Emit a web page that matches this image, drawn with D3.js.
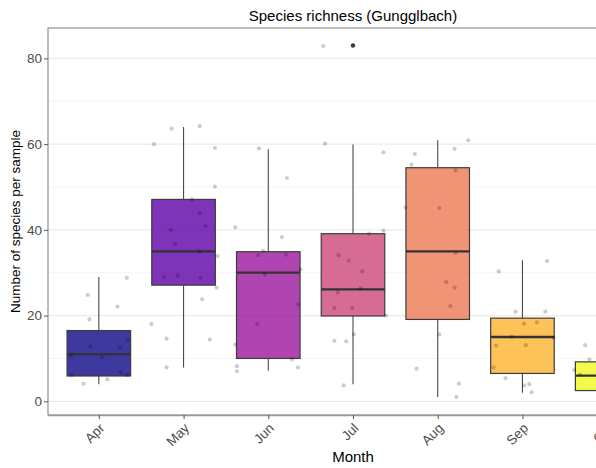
<!DOCTYPE html>
<html>
<head>
<meta charset="utf-8">
<script src="https://cdn.jsdelivr.net/npm/d3@7"></script>
<style>
  html, body { margin: 0; padding: 0; background: #fff; overflow: hidden; }
  svg { display: block; font-family: "Liberation Sans", Arial, sans-serif; }
</style>
</head>
<body>
<svg id="chart" width="596" height="468"></svg>
<script>
// Months sampled
const months = ["Apr", "May", "Jun", "Jul", "Aug", "Sep", "Oct"];

// Box statistics per month
const lowerWhisker = [4.0, 7.9, 7.1, 4.0, 1.0, 2.0, 1.0];
const q1 = [5.9, 27.1, 10.0, 19.9, 19.1, 6.5, 2.5];
const median = [11.0, 35.0, 30.0, 26.1, 35.0, 15.0, 6.0];
const q3 = [16.5, 47.1, 34.9, 39.1, 54.5, 19.4, 9.2];
const upperWhisker = [29.0, 64.0, 58.8, 59.9, 60.9, 32.9, 13.0];

// Outliers beyond the whiskers
const outlierMonth = ["Jul"];
const outlierValue = [83];

// Individual samples (species per sample) and their horizontal jitter, in category steps
const sampleMonth = [
  "Apr","Apr","Apr","Apr","Apr","Apr","Apr","Apr","Apr","Apr","Apr","Apr","Apr","Apr",
  "May","May","May","May","May","May","May","May","May","May","May","May","May","May","May","May","May","May","May","May","May",
  "Jun","Jun","Jun","Jun","Jun","Jun","Jun","Jun","Jun","Jun","Jun","Jun","Jun","Jun","Jun","Jun",
  "Jul","Jul","Jul","Jul","Jul","Jul","Jul","Jul","Jul","Jul","Jul","Jul","Jul","Jul","Jul","Jul","Jul",
  "Aug","Aug","Aug","Aug","Aug","Aug","Aug","Aug","Aug","Aug","Aug","Aug","Aug","Aug","Aug",
  "Sep","Sep","Sep","Sep","Sep","Sep","Sep","Sep","Sep","Sep","Sep","Sep","Sep","Sep","Sep",
  "Oct","Oct","Oct","Oct","Oct","Oct","Oct","Oct"
];
const sampleValue = [
  24.8, 19.1, 28.8, 22.1, 10.7, 12.8, 10.3, 12.6, 14.2, 6.8, 6.1, 6.1, 4.1, 5.1,
  63.6, 64.2, 60.0, 59.1, 50.1, 47.1, 43.9, 40.9, 40.0, 36.7, 35.0, 33.9, 29.0, 29.3, 28.8, 26.5, 23.8, 18.0, 14.6, 14.4, 7.9,
  59.0, 52.1, 40.6, 38.3, 35.1, 34.1, 34.2, 30.8, 29.6, 22.6, 18.0, 13.2, 9.8, 7.9, 8.2, 7.0,
  82.9, 60.1, 58.1, 39.8, 39.1, 34.1, 32.8, 30.3, 26.4, 25.4, 21.8, 21.7, 20.0, 15.6, 14.1, 14.0, 3.7,
  60.9, 57.7, 58.9, 55.2, 53.9, 45.2, 45.1, 34.6, 27.8, 26.5, 22.2, 15.6, 7.6, 4.1, 1.0,
  32.7, 30.3, 20.9, 20.9, 18.1, 18.4, 15.1, 14.8, 13.0, 13.1, 7.9, 5.4, 3.7, 4.0, 2.1,
  13.1, 9.8, 7.3, 6.2, 12.0, 4.0, 2.0, 1.0
];
const sampleJitter = [
  -0.13, -0.11, 0.33, 0.22, -0.33, -0.10, 0.04, 0.25, 0.34, 0.26, -0.32, 0.33, -0.18, 0.10,
  -0.14, 0.19, -0.35, 0.37, 0.37, 0.10, 0.19, 0.26, -0.15, -0.10, 0.19, 0.40, -0.23, -0.07, 0.20, 0.39, 0.22, -0.38, -0.20, 0.31, -0.20,
  -0.11, 0.22, -0.39, 0.16, -0.06, -0.12, 0.21, 0.38, -0.04, 0.35, -0.13, -0.39, 0.28, 0.35, -0.37, -0.37,
  -0.35, -0.33, 0.36, 0.36, 0.19, -0.17, -0.05, 0.11, 0.09, -0.18, -0.22, -0.01, 0.39, 0.01, -0.22, -0.08, -0.11,
  0.36, -0.27, 0.20, -0.31, 0.21, -0.38, 0.02, 0.21, 0.10, 0.20, 0.15, 0.02, -0.25, 0.25, 0.22,
  0.29, -0.28, -0.08, 0.27, 0.02, 0.17, -0.13, 0.37, -0.31, 0.04, -0.34, -0.20, 0.02, 0.08, 0.11,
  -0.26, -0.21, -0.39, -0.32, 0.15, 0.30, 0.10, -0.05
];

const yTicks = [0, 20, 40, 60, 80];
const yMinorTicks = [10, 30, 50, 70];

const svg = d3.select("#chart");

// Panel extends past the right edge of the window
const panel = { left: 48, right: 658, top: 28, bottom: 415 };

const x = d3.scalePoint()
  .domain(months)
  .range([panel.left, panel.right])
  .padding(0.6);
const step = x.step();
const boxW = step * 0.75;

const y = d3.scaleLinear()
  .domain([-3.2, 87.1])
  .range([panel.bottom, panel.top]);

const fill = d3.scaleOrdinal()
  .domain(months)
  .range(d3.quantize(d3.interpolatePlasma, months.length));

// Grid lines
svg.append("g").selectAll("line.minor")
  .data(yMinorTicks).join("line")
  .attr("x1", panel.left).attr("x2", panel.right)
  .attr("y1", d => y(d)).attr("y2", d => y(d))
  .attr("stroke", "#f4f4f4").attr("stroke-width", 1);
svg.append("g").selectAll("line.major")
  .data(yTicks).join("line")
  .attr("x1", panel.left).attr("x2", panel.right)
  .attr("y1", d => y(d)).attr("y2", d => y(d))
  .attr("stroke", "#ebebeb").attr("stroke-width", 1.2);

// Boxplots
const boxes = months.map((m, i) => ({
  m, lo: lowerWhisker[i], q1: q1[i], med: median[i], q3: q3[i], hi: upperWhisker[i]
}));
const gBox = svg.append("g");
gBox.selectAll("line.whisker-up").data(boxes).join("line")
  .attr("x1", d => x(d.m)).attr("x2", d => x(d.m))
  .attr("y1", d => y(d.q3)).attr("y2", d => y(d.hi))
  .attr("stroke", "#4a4a4a").attr("stroke-width", 1.1);
gBox.selectAll("line.whisker-down").data(boxes).join("line")
  .attr("x1", d => x(d.m)).attr("x2", d => x(d.m))
  .attr("y1", d => y(d.q1)).attr("y2", d => y(d.lo))
  .attr("stroke", "#4a4a4a").attr("stroke-width", 1.1);
gBox.selectAll("rect").data(boxes).join("rect")
  .attr("x", d => x(d.m) - boxW / 2)
  .attr("width", boxW)
  .attr("y", d => y(d.q3))
  .attr("height", d => y(d.q1) - y(d.q3))
  .attr("fill", d => fill(d.m))
  .attr("fill-opacity", 0.8)
  .attr("stroke", "#3c3c3c")
  .attr("stroke-width", 1.2);
gBox.selectAll("line.median").data(boxes).join("line")
  .attr("x1", d => x(d.m) - boxW / 2).attr("x2", d => x(d.m) + boxW / 2)
  .attr("y1", d => y(d.med)).attr("y2", d => y(d.med))
  .attr("stroke", "#333").attr("stroke-width", 2.3);

// Outliers
svg.append("g").selectAll("circle").data(outlierMonth.map((m, i) => ({ m, v: outlierValue[i] })))
  .join("circle")
  .attr("cx", d => x(d.m)).attr("cy", d => y(d.v)).attr("r", 2.2)
  .attr("fill", "#3a3a3a");

// Jittered samples
const samples = sampleValue.map((v, i) => ({ m: sampleMonth[i], v, j: sampleJitter[i] }));
svg.append("g").selectAll("circle").data(samples).join("circle")
  .attr("cx", d => x(d.m) + d.j * step)
  .attr("cy", d => y(d.v))
  .attr("r", 2.1)
  .attr("fill", "#000")
  .attr("fill-opacity", 0.2);

// Panel border
svg.append("rect")
  .attr("x", panel.left).attr("y", panel.top)
  .attr("width", panel.right - panel.left).attr("height", panel.bottom - panel.top)
  .attr("fill", "none").attr("stroke", "#7a7a7a").attr("stroke-width", 1);
svg.append("line")
  .attr("x1", panel.left).attr("x2", panel.right)
  .attr("y1", panel.bottom + 0.5).attr("y2", panel.bottom + 0.5)
  .attr("stroke", "#999").attr("stroke-width", 1.6);

// Y axis
const yAxis = svg.append("g")
  .attr("transform", `translate(${panel.left},0)`)
  .call(d3.axisLeft(y).tickValues(yTicks).tickSize(4).tickPadding(2));
yAxis.select(".domain").remove();
yAxis.selectAll(".tick line").attr("stroke", "#555");
yAxis.selectAll(".tick text").attr("fill", "#4d4d4d").attr("font-size", 13.5)
  .attr("font-family", "Liberation Sans, Arial, sans-serif");

// X axis
const xAxis = svg.append("g")
  .attr("transform", `translate(0,${panel.bottom})`)
  .call(d3.axisBottom(x).tickSize(4).tickPadding(2));
xAxis.select(".domain").remove();
xAxis.selectAll(".tick line").attr("stroke", "#555");
xAxis.selectAll(".tick text")
  .attr("fill", "#4d4d4d").attr("font-size", 13.5)
  .attr("font-family", "Liberation Sans, Arial, sans-serif")
  .attr("text-anchor", "end")
  .attr("dy", null)
  .attr("y", 0)
  .attr("transform", "translate(6,14) rotate(-45)");

// Titles
svg.append("text")
  .attr("x", (panel.left + panel.right) / 2).attr("y", 21)
  .attr("text-anchor", "middle").attr("font-size", 15).attr("fill", "#000")
  .text("Species richness (Gungglbach)");
svg.append("text")
  .attr("x", (panel.left + panel.right) / 2).attr("y", 462)
  .attr("text-anchor", "middle").attr("font-size", 15).attr("fill", "#000")
  .text("Month");
svg.append("text")
  .attr("transform", `translate(20,${(panel.top + panel.bottom) / 2}) rotate(-90)`)
  .attr("text-anchor", "middle").attr("font-size", 13.5).attr("fill", "#000")
  .text("Number of species per sample");
</script>
</body>
</html>
